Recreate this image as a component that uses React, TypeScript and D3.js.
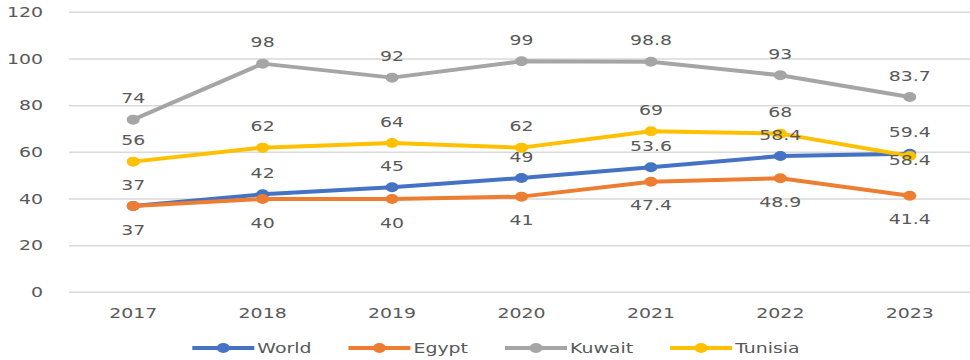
import React from 'react';
import * as d3 from 'd3';

const years = ['2017', '2018', '2019', '2020', '2021', '2022', '2023'];
const world = [37, 42, 45, 49, 53.6, 58.4, 59.4];
const egypt = [37, 40, 40, 41, 47.4, 48.9, 41.4];
const kuwait = [74, 98, 92, 99, 98.8, 93, 83.7];
const tunisia = [56, 62, 64, 62, 69, 68, 58.4];
const yTicks = [0, 20, 40, 60, 80, 100, 120];
const seriesNames = ['World', 'Egypt', 'Kuwait', 'Tunisia'];
const seriesColors = ['#4472C4', '#ED7D31', '#A5A5A5', '#FFC000'];

// label placement: 'a' above, 'b' below, 'c' just under the point
const labelPlacement = [
  ['a', 'a', 'a', 'a', 'a', 'a', 'a'],
  ['b', 'b', 'b', 'b', 'b', 'b', 'b'],
  ['a', 'a', 'a', 'a', 'a', 'a', 'a'],
  ['a', 'a', 'a', 'a', 'a', 'a', 'c'],
];

const W = 970;
const H = 360;
const SX = 1.35;
const FONT = "'DejaVu Sans', sans-serif";
const TEXT = '#595959';

function measure(t: string, size: number) {
  const c = document.createElement('canvas').getContext('2d');
  if (!c) return t.length * size * 0.6;
  c.font = `${size}px 'DejaVu Sans'`;
  return c.measureText(t).width;
}

function SText({ x, y, children, anchor = 'middle', size = 14 }: any) {
  return (
    <text
      transform={`translate(${x},${y}) scale(${SX},1)`}
      textAnchor={anchor}
      dominantBaseline="central"
      fontFamily={FONT}
      fontSize={size}
      fill={TEXT}
    >
      {children}
    </text>
  );
}

export default function App() {
  const data = [world, egypt, kuwait, tunisia];
  const x = d3.scalePoint<string>().domain(years).range([68.5, 974.5]).padding(0.5);
  const y = d3.scaleLinear().domain([0, 120]).range([292.3, 12.3]);
  const line = d3
    .line<number>()
    .x((_, i) => x(years[i]) as number)
    .y((d) => y(d));

  // legend layout
  const lineLen = 62;
  const textGap = 3;
  const itemGap = 37;
  const widths = seriesNames.map((n) => measure(n, 14) * SX);
  const total =
    widths.reduce((a, b) => a + b, 0) + seriesNames.length * (lineLen + textGap) + (seriesNames.length - 1) * itemGap;
  let lx = 496 - total / 2;
  const legendItems = seriesNames.map((n, i) => {
    const item = { name: n, x: lx, color: seriesColors[i] };
    lx += lineLen + textGap + widths[i] + itemGap;
    return item;
  });
  const ly = 348;

  return (
    <svg
      width={W}
      height={H}
      style={{ position: 'absolute', left: 0, top: 0, display: 'block', background: '#fff' }}
    >
      {yTicks.map((t) => (
        <g key={t}>
          <line x1={69} x2={975} y1={y(t)} y2={y(t)} stroke="#D9D9D9" strokeWidth={1.5} />
          <SText x={43} y={y(t)} anchor="end">
            {t}
          </SText>
        </g>
      ))}
      {years.map((yr) => (
        <SText key={yr} x={x(yr)} y={313}>
          {yr}
        </SText>
      ))}
      {data.map((s, si) => (
        <g key={si}>
          <path d={line(s) || ''} fill="none" stroke={seriesColors[si]} strokeWidth={4} strokeLinejoin="round" />
          {s.map((v, i) => (
            <ellipse key={i} cx={x(years[i])} cy={y(v)} rx={6.5} ry={5} fill={seriesColors[si]} />
          ))}
        </g>
      ))}
      {data.map((s, si) =>
        s.map((v, i) => {
          const p = labelPlacement[si][i];
          const dy = p === 'a' ? -21 : p === 'b' ? 24 : 4;
          return (
            <SText key={`${si}-${i}`} x={x(years[i])} y={y(v) + dy}>
              {String(v)}
            </SText>
          );
        })
      )}
      {legendItems.map((it) => (
        <g key={it.name}>
          <line x1={it.x} x2={it.x + lineLen} y1={ly} y2={ly} stroke={it.color} strokeWidth={4} />
          <ellipse cx={it.x + lineLen / 2} cy={ly} rx={6.5} ry={5} fill={it.color} />
          <SText x={it.x + lineLen + textGap} y={ly} anchor="start">
            {it.name}
          </SText>
        </g>
      ))}
    </svg>
  );
}
